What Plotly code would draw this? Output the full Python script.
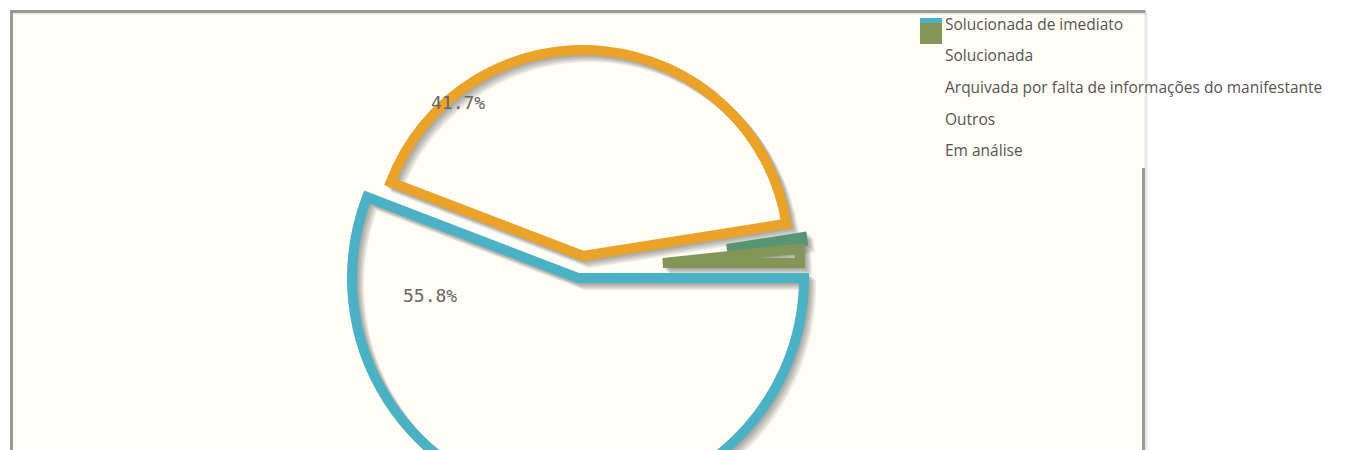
import plotly.graph_objects as go

# ---------------- data ----------------
categories = [
    "Solucionada de imediato",
    "Solucionada",
    "Arquivada por falta de informações do manifestante",
    "Outros",
    "Em análise",
]
values = [67, 50, 0, 1, 2]
slice_colors = ["#4bb2c5", "#EAA228", "#c5b47f", "#579575", "#839557"]
label_threshold = 3.0  # percent; smaller slices get no data label

# ---------------- layout constants ----------------
W, H = 1346, 520
BG = "#fffdf6"
BORDER = "#999999"
N = len(values)
total = float(sum(values))

# exploded-slice geometry (pixel centre + radius of each drawn slice)
slice_geom = {0: (578, 278, 226), 1: (583, 256, 206), 3: (727, 249, 76), 4: (663, 263, 137)}
label_pos = {0: (430, 295), 1: (458, 103)}


def dom(cx, cy, r):
    return dict(x=[(cx - r) / W, (cx + r) / W], y=[1 - (cy + r) / H, 1 - (cy - r) / H])


def slice_trace(idx, cx, cy, r, color, lw=10):
    return go.Pie(
        labels=categories,
        values=values,
        sort=False,
        direction="clockwise",
        rotation=90,
        marker=dict(
            colors=["rgba(0,0,0,0)"] * N,
            line=dict(
                color=[color if i == idx else "rgba(0,0,0,0)" for i in range(N)],
                width=[lw if i == idx else 0 for i in range(N)],
            ),
        ),
        textinfo="none",
        hoverinfo="skip",
        showlegend=False,
        domain=dom(cx, cy, r),
    )


fig = go.Figure()

# shadows (drawn first, beneath all slices)
for k in range(1, 6):
    off = 1.4 * k
    for idx, (cx, cy, r) in slice_geom.items():
        fig.add_trace(slice_trace(idx, cx + off, cy + off, r, "rgba(0,0,0,0.075)"))

# slices
for idx, (cx, cy, r) in slice_geom.items():
    fig.add_trace(slice_trace(idx, cx, cy, r, slice_colors[idx]))

shapes = []
# grid background
shapes.append(dict(type="rect", xref="paper", yref="paper",
                   x0=11 / W, x1=1144 / W, y0=-0.5, y1=1 - 11 / H,
                   fillcolor=BG, line=dict(width=0), layer="below"))
# border shadow
for k in range(1, 4):
    a = 0.06
    shapes.append(dict(type="line", xref="paper", yref="paper",
                       x0=(11 + k) / W, x1=(1144 + k) / W, y0=1 - (11 + k) / H, y1=1 - (11 + k) / H,
                       line=dict(color=f"rgba(0,0,0,{a})", width=1.5), layer="below"))
    shapes.append(dict(type="line", xref="paper", yref="paper",
                       x0=(1144 + k) / W, x1=(1144 + k) / W, y0=-0.5, y1=1 - (11 + k) / H,
                       line=dict(color=f"rgba(0,0,0,{a})", width=1.5), layer="below"))
# border lines
shapes.append(dict(type="line", xref="paper", yref="paper",
                   x0=10 / W, x1=1145.5 / W, y0=1 - 11.5 / H, y1=1 - 11.5 / H,
                   line=dict(color=BORDER, width=3), layer="below"))
shapes.append(dict(type="line", xref="paper", yref="paper",
                   x0=11.5 / W, x1=11.5 / W, y0=-0.5, y1=1 - 10 / H,
                   line=dict(color=BORDER, width=3), layer="below"))
shapes.append(dict(type="line", xref="paper", yref="paper",
                   x0=1143.5 / W, x1=1143.5 / W, y0=-0.5, y1=1 - 168 / H,
                   line=dict(color=BORDER, width=3), layer="below"))

# legend swatches (as rendered in the original: stacked)
shapes.append(dict(type="rect", xref="paper", yref="paper",
                   x0=920 / W, x1=942 / W, y0=1 - 44 / H, y1=1 - 23 / H,
                   fillcolor=slice_colors[4], line=dict(width=0)))
shapes.append(dict(type="rect", xref="paper", yref="paper",
                   x0=920 / W, x1=942 / W, y0=1 - 23 / H, y1=1 - 18 / H,
                   fillcolor=slice_colors[0], line=dict(width=0)))

annotations = []
row_y = [24, 55, 87, 119, 150]
for lab, yy in zip(categories, row_y):
    annotations.append(dict(xref="paper", yref="paper", x=943 / W, y=1 - yy / H,
                            xanchor="left", yanchor="middle", showarrow=False, text=lab,
                            font=dict(family="Open Sans", size=15.5, color="#555555")))

for idx, (lx, ly) in label_pos.items():
    pct = values[idx] / total * 100
    if pct >= label_threshold:
        annotations.append(dict(xref="paper", yref="paper", x=lx / W, y=1 - ly / H,
                                xanchor="center", yanchor="middle", showarrow=False,
                                text=f"{pct:.1f}%",
                                font=dict(family="DejaVu Sans Mono", size=18, color="#666666")))

fig.update_layout(
    width=W, height=H,
    margin=dict(l=0, r=0, t=0, b=0),
    paper_bgcolor="#ffffff",
    plot_bgcolor="#ffffff",
    showlegend=False,
    shapes=shapes,
    annotations=annotations,
)

post = ("document.documentElement.style.overflow='hidden';"
        "document.body.style.overflow='hidden';document.body.style.margin='0';"
        "document.querySelectorAll('g.slice path').forEach(function(p){"
        "p.style.strokeLinejoin='miter';p.style.strokeMiterlimit='10';});")
fig.write_html("out.html", post_script=post, config={"displayModeBar": False})
